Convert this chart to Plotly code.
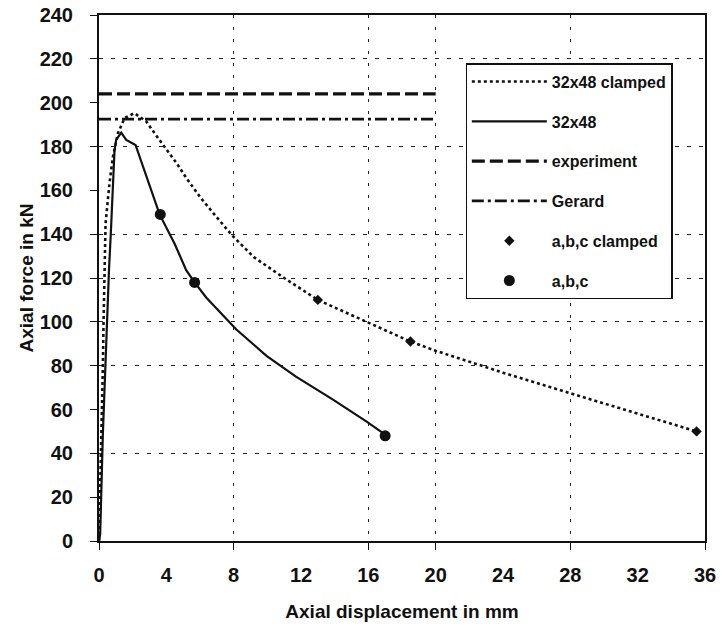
import plotly.graph_objects as go

# ---- data ----
clamped_x = [0, 0.1, 0.15, 0.23, 0.27, 0.39, 0.62, 0.82, 1.12, 1.52, 2.1, 2.8, 3.4, 4.0, 4.6,
             5.2, 6.0, 6.8, 7.9, 9.2, 11.0, 13.0, 16.0, 18.5, 20.0, 24.0, 28.0, 32.0, 35.5]
clamped_y = [0, 30, 50, 80, 100, 145, 163, 175, 186, 193, 195.2, 191.5, 185, 179, 172.5,
             165.5, 157, 149.5, 139.5, 129.5, 120, 110, 99.8, 91, 86.8, 76.8, 67.4, 58.2, 50]

free_x = [0, 0.07, 0.23, 0.38, 0.45, 0.6, 0.7, 0.82, 0.92, 1.02, 1.32, 1.62, 2.17, 3.6,
          4.5, 5.18, 5.68, 6.38, 7.2, 8.16, 9.95, 11.7, 13.9, 15.9, 17.0]
free_y = [0, 3, 49, 80, 100, 125, 140, 163, 178, 183, 186.3, 183, 180.7, 149,
          135.5, 123.6, 118, 111, 104.5, 96.5, 84.5, 75, 64.5, 54.5, 48.5]

experiment_x = [0, 20]
experiment_y = [204, 204]
gerard_x = [0, 20]
gerard_y = [192.5, 192.5]

abc_clamped_x = [13.0, 18.5, 35.5]
abc_clamped_y = [110, 91, 50]
abc_x = [3.64, 5.68, 17.0]
abc_y = [149, 118, 48]

x_labels = [0, 4, 8, 12, 16, 20, 24, 28, 32, 36]
x_grid = [0, 8, 16, 20, 28, 36]
y_labels = [0, 20, 40, 60, 80, 100, 120, 140, 160, 180, 200, 220, 240]
y_grid = [40, 80, 100, 120, 140, 180, 220]

FONT = "Liberation Sans, Arial, sans-serif"
INK = "#111111"

fig = go.Figure()
fig.add_trace(go.Scatter(x=clamped_x, y=clamped_y, mode="lines", name="32x48 clamped",
                         legendgroup="g1",
                         line=dict(color=INK, width=2.6, dash="3px,3px")))
fig.add_trace(go.Scatter(x=free_x, y=free_y, mode="lines", name="32x48",
                         legendgroup="g2",
                         line=dict(color=INK, width=2.2)))
fig.add_trace(go.Scatter(x=experiment_x, y=experiment_y, mode="lines", name="experiment",
                         legendgroup="g3", xaxis="x2", yaxis="y2",
                         line=dict(color=INK, width=3.2, dash="13px,5px")))
fig.add_trace(go.Scatter(x=gerard_x, y=gerard_y, mode="lines", name="Gerard",
                         legendgroup="g4", xaxis="x2", yaxis="y2",
                         line=dict(color=INK, width=2.6, dash="12px,4px,3px,4px")))
fig.add_trace(go.Scatter(x=abc_clamped_x, y=abc_clamped_y, mode="markers", name="a,b,c clamped",
                         legendgroup="g5",
                         marker=dict(symbol="diamond", size=8, color=INK)))
fig.add_trace(go.Scatter(x=abc_x, y=abc_y, mode="markers", name="a,b,c",
                         legendgroup="g6",
                         marker=dict(symbol="circle", size=11, color=INK)))

grid_common = dict(gridcolor="#222222", gridwidth=1)

fig.update_layout(
    width=722, height=628,
    margin=dict(l=99, r=17, t=15, b=87),
    paper_bgcolor="white", plot_bgcolor="white",
    font=dict(family=FONT, size=18, color=INK),
    xaxis=dict(range=[0, 36], tickmode="array", tickvals=x_grid, ticks="outside",
               ticklen=7, tickcolor=INK, tickwidth=1.3, showticklabels=False,
               showgrid=True, griddash="3px,9px", zeroline=False, automargin=False,
               showline=True, linecolor=INK, linewidth=1.5, mirror=True,
               **grid_common),
    yaxis=dict(range=[0, 240], tickmode="array", tickvals=y_grid, ticks="",
               showticklabels=False, showgrid=True, griddash="4px,8px",
               zeroline=False, showline=True, linecolor=INK, linewidth=1.5,
               mirror=True, automargin=False, **grid_common),
    xaxis2=dict(range=[0, 36], overlaying="x", anchor="y2", side="bottom",
                tickmode="array", tickvals=x_labels, ticks="", showgrid=False,
                zeroline=False, showline=False, ticklabelstandoff=20, automargin=False,
                ticklabeloverflow="allow",
                tickfont=dict(size=20, weight="bold"),
                title=dict(text="Axial displacement in mm",
                           font=dict(size=19, weight="bold"), standoff=19)),
    yaxis2=dict(range=[0, 240], overlaying="y", anchor="x2", side="left",
                tickmode="array", tickvals=y_labels, ticks="outside", ticklen=8,
                tickcolor=INK, tickwidth=1.3, showgrid=False, zeroline=False,
                showline=False, ticklabelstandoff=13, automargin=False,
                ticklabeloverflow="allow",
                tickfont=dict(size=20, weight="bold"),
                title=dict(text="Axial force in kN",
                           font=dict(size=19, weight="bold"), standoff=0)),
    legend=dict(x=0.605, y=0.908, xanchor="left", yanchor="top",
                bgcolor="white", bordercolor=INK, borderwidth=1.2,
                font=dict(size=16, color=INK, weight="bold"), itemwidth=75,
                traceorder="grouped", tracegroupgap=16),
    showlegend=True,
)

# remove the default 8px page margin so the figure fills the window exactly
fig.write_html(
    "out.html",
    config={"displayModeBar": False},
    post_script="document.body.style.margin='0';document.body.style.overflow='hidden';",
)
